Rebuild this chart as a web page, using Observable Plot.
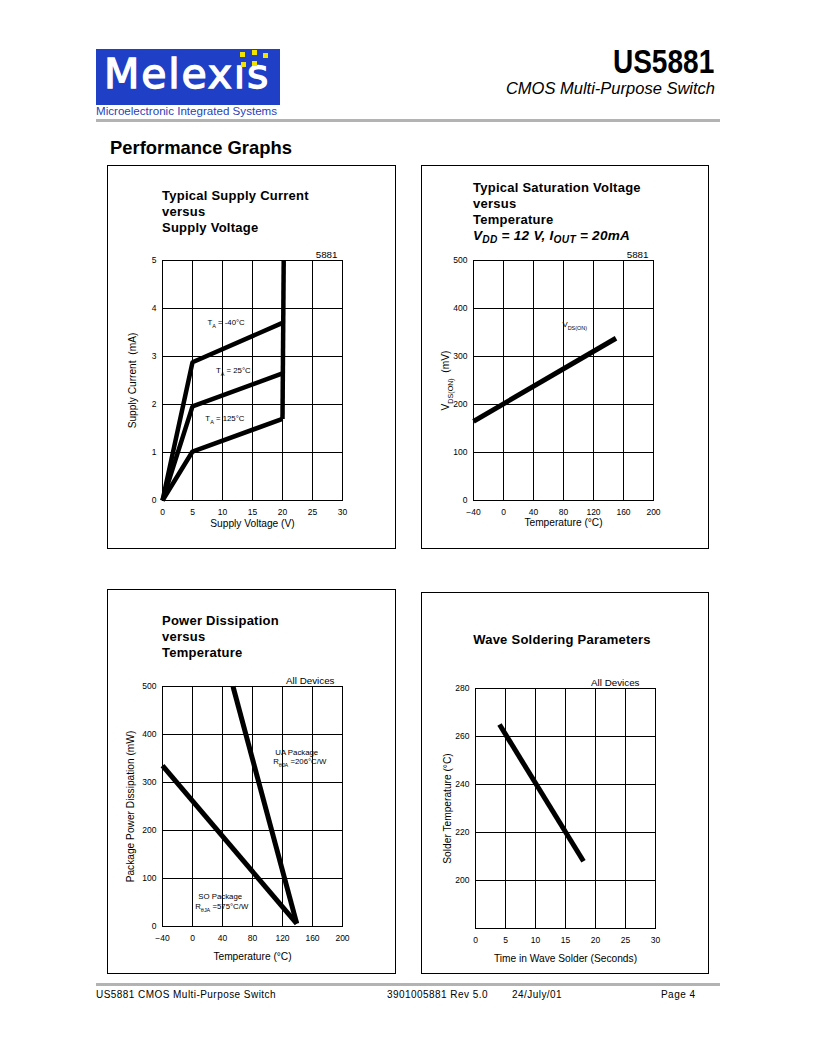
<!DOCTYPE html>
<html><head><meta charset="utf-8">
<script src="https://cdn.jsdelivr.net/npm/d3@7"></script>
<script src="https://cdn.jsdelivr.net/npm/@observablehq/plot@0.6"></script>
<style>
html,body{margin:0;padding:0;background:#fff;}
#page{position:relative;width:816px;height:1056px;overflow:hidden;font-family:"Liberation Sans",Arial,Helvetica,sans-serif;color:#000;}
.abs{position:absolute;}
.panel{position:absolute;border:1px solid #000;box-sizing:border-box;}
.title{position:absolute;font-weight:bold;font-size:13px;line-height:16px;white-space:nowrap;letter-spacing:0.25px;}
.title sub{font-size:0.75em;vertical-align:-0.3em;line-height:0;}
.rule{position:absolute;background:#b3b3b3;height:3px;left:96px;width:624px;}
.foot{position:absolute;top:989px;font-size:10px;letter-spacing:0.45px;white-space:nowrap;line-height:12px;}
.sq{position:absolute;width:5px;height:5px;background:#f2e200;}
.chart{position:absolute;width:260px;height:300px;}
</style></head>
<body><div id="page">
  <!-- header -->
  <div class="abs" style="left:96px;top:49px;width:184px;height:56px;background:#1f3fc6;"></div>
  <div class="abs" style="left:104px;top:46px;font-family:'DejaVu Sans';font-size:41px;line-height:56px;color:#fff;-webkit-text-stroke:1.3px #fff;letter-spacing:1.8px;white-space:nowrap;">Melexıs</div>
  <div class="sq" style="left:240px;top:52px"></div>
  <div class="sq" style="left:252px;top:50px"></div>
  <div class="sq" style="left:263px;top:53px"></div>
  <div class="sq" style="left:241px;top:62px"></div>
  <div class="sq" style="left:252px;top:61px"></div>
  <div class="abs" style="left:96px;top:104px;font-size:11.6px;line-height:13px;color:#2a3fb8;white-space:nowrap;">Microelectronic Integrated Systems</div>
  <div class="abs" style="right:102px;top:45px;font-weight:bold;font-size:33px;line-height:33px;transform:scaleX(0.85);transform-origin:right top;white-space:nowrap;">US5881</div>
  <div class="abs" style="right:101px;top:79px;font-style:italic;font-size:16.5px;line-height:18px;white-space:nowrap;">CMOS Multi-Purpose Switch</div>
  <div class="rule" style="top:119px"></div>
  <div class="abs" style="left:110px;top:138px;font-weight:bold;font-size:18.4px;line-height:20px;white-space:nowrap;">Performance Graphs</div>

  <!-- panels -->
  <div class="panel" style="left:107px;top:165px;width:289px;height:384px"></div>
  <div class="panel" style="left:421px;top:165px;width:288px;height:384px"></div>
  <div class="panel" style="left:107px;top:589px;width:289px;height:385px"></div>
  <div class="panel" style="left:421px;top:592px;width:288px;height:382px"></div>

  <div class="title" style="left:162px;top:188px">Typical Supply Current<br>versus<br>Supply Voltage</div>
  <div class="title" style="left:473px;top:180px">Typical Saturation Voltage<br>versus<br>Temperature<br><i style="font-size:13.6px">V<sub>DD</sub> = 12 V, I<sub>OUT</sub> = 20mA</i></div>
  <div class="title" style="left:162px;top:613px">Power Dissipation<br>versus<br>Temperature</div>
  <div class="title" style="left:462px;top:632px;width:200px;text-align:center">Wave Soldering Parameters</div>

  <div id="c1" class="chart" style="left:102px;top:240px"></div>
  <div id="c2" class="chart" style="left:413px;top:240px"></div>
  <div id="c3" class="chart" style="left:102px;top:666px"></div>
  <div id="c4" class="chart" style="left:415px;top:668px"></div>

  <!-- footer -->
  <div class="rule" style="top:983px"></div>
  <div class="foot" style="left:96px">US5881 CMOS Multi-Purpose Switch</div>
  <div class="foot" style="left:387px">3901005881 Rev 5.0</div>
  <div class="foot" style="left:512px">24/July/01</div>
  <div class="foot" style="left:661px">Page 4</div>
</div>
<script>
// ---------- Chart 1: Typical Supply Current vs Supply Voltage ----------
const supplyVoltage = [0, 5, 20];
const currentTaMinus40 = [0, 2.88, 3.70];
const currentTa25 = [0, 1.96, 2.65];
const currentTa125 = [0, 1.02, 1.70];
const clampVoltage = [20, 20.2];
const clampCurrent = [1.70, 5.0];
const c1XTicks = [0, 5, 10, 15, 20, 25, 30];
const c1YTicks = [0, 1, 2, 3, 4, 5];
const c1Labels = ["T_{A} = -40°C", "T_{A} = 25°C", "T_{A} = 125°C"];
const c1LabelX = [10.6, 11.8, 10.4];
const c1LabelY = [3.71, 2.71, 1.71];

// ---------- Chart 2: Saturation Voltage vs Temperature ----------
const satTemp = [-40, 150];
const satVoltage = [165, 338];
const c2XTicks = [-40, 0, 40, 80, 120, 160, 200];
const c2YTicks = [0, 100, 200, 300, 400, 500];
const c2Labels = ["V_{DS(ON)}"];
const c2LabelX = [95];
const c2LabelY = [367];

// ---------- Chart 3: Power Dissipation vs Temperature ----------
const soTemp = [-40, 139];
const soPower = [335, 6];
const uaTemp = [54, 139];
const uaPower = [500, 6];
const c3XTicks = [-40, 0, 40, 80, 120, 160, 200];
const c3YTicks = [0, 100, 200, 300, 400, 500];
const c3Labels = ["UA Package", "R_{θJA} =206°C/W", "SO Package", "R_{θJA} =575°C/W"];
const c3LabelX = [139, 143, 37, 39];
const c3LabelY = [362, 343, 63, 42];

// ---------- Chart 4: Wave Soldering Parameters ----------
const solderTime = [4, 18];
const solderTemp = [265, 208];
const c4XTicks = [0, 5, 10, 15, 20, 25, 30];
const c4YTicks = [200, 220, 240, 260, 280];

const FONT = '"Liberation Sans", Arial, Helvetica, sans-serif';

function series(xs, ys) { return xs.map((x, i) => ({x, y: ys[i]})); }
function notes(texts, xs, ys) { return texts.map((t, i) => ({text: t, x: xs[i], y: ys[i]})); }

function richText(svg) {
  const ns = "http://www.w3.org/2000/svg";
  svg.querySelectorAll("text, tspan").forEach(el => {
    if (el.children.length) return;
    const s = el.textContent;
    if (!s.includes("_{")) return;
    el.textContent = "";
    const re = /_\{([^}]*)\}/g;
    let last = 0, m;
    while ((m = re.exec(s))) {
      if (m.index > last) {
        const t = document.createElementNS(ns, "tspan");
        t.textContent = s.slice(last, m.index);
        el.appendChild(t);
      }
      const sub = document.createElementNS(ns, "tspan");
      sub.textContent = m[1];
      sub.setAttribute("font-size", "0.7em");
      sub.setAttribute("baseline-shift", "sub");
      el.appendChild(sub);
      last = re.lastIndex;
    }
    if (last < s.length) {
      const t = document.createElementNS(ns, "tspan");
      t.textContent = s.slice(last);
      el.appendChild(t);
    }
  });
}

function chart(id, o) {
  const marks = [
    Plot.gridX(o.xTicks, {stroke: "#000", strokeOpacity: 1, strokeWidth: 1}),
    Plot.gridY(o.yTicks, {stroke: "#000", strokeOpacity: 1, strokeWidth: 1}),
    Plot.frame({stroke: "#000", strokeWidth: 1}),
    Plot.axisX(o.xTicks, {tickSize: 0, tickPadding: 8, label: null, fontSize: 8.5}),
    Plot.axisY(o.yTicks, {tickSize: 0, tickPadding: 6, label: null, fontSize: 8.5}),
    ...o.lines.map(d => Plot.line(d, {x: "x", y: "y", stroke: "#000", strokeWidth: o.lw || 4.5, strokeLinecap: "butt", strokeLinejoin: "miter"})),
    Plot.text([o.xLabel], {frameAnchor: "bottom", textAnchor: "middle", dy: o.xLabelDy, text: d => d, fontSize: 10.2, lineAnchor: "middle"}),
    Plot.text([o.yLabel], {frameAnchor: "left", textAnchor: "middle", dx: o.yLabelDx, rotate: -90, text: d => d, fontSize: 10.2, lineAnchor: "middle"}),
    Plot.text([o.corner], {frameAnchor: "top-right", textAnchor: "end", dx: o.cornerDx, dy: -6, text: d => d, fontSize: 9.8, lineAnchor: "middle"})
  ];
  if (o.notes) marks.push(Plot.text(o.notes, {x: "x", y: "y", text: "text", fontSize: 7.8, textAnchor: "middle", lineAnchor: "middle"}));
  const p = Plot.plot({
    width: 260, height: 300,
    marginLeft: 60, marginRight: 20, marginTop: 20, marginBottom: 40,
    style: {fontFamily: FONT, fontSize: "8.5px", background: "transparent", color: "#000", overflow: "visible"},
    x: {domain: o.xDomain},
    y: {domain: o.yDomain},
    marks
  });
  richText(p);
  document.getElementById(id).appendChild(p);
}

chart("c1", {
  xDomain: [0, 30], yDomain: [0, 5], xTicks: c1XTicks, yTicks: c1YTicks,
  lines: [series(supplyVoltage, currentTaMinus40), series(supplyVoltage, currentTa25), series(supplyVoltage, currentTa125), series(clampVoltage, clampCurrent)],
  xLabel: "Supply Voltage (V)", xLabelDy: 23, yLabel: "Supply Current  (mA)", yLabelDx: -30,
  corner: "5881", cornerDx: -5,
  notes: notes(c1Labels, c1LabelX, c1LabelY)
});
chart("c2", {
  xDomain: [-40, 200], yDomain: [0, 500], xTicks: c2XTicks, yTicks: c2YTicks,
  lines: [series(satTemp, satVoltage)], lw: 5,
  xLabel: "Temperature (°C)", xLabelDy: 22, yLabel: "V_{DS(ON)}  (mV)", yLabelDx: -28,
  corner: "5881", cornerDx: -5,
  notes: notes(c2Labels, c2LabelX, c2LabelY)
});
chart("c3", {
  xDomain: [-40, 200], yDomain: [0, 500], xTicks: c3XTicks, yTicks: c3YTicks,
  lines: [series(soTemp, soPower), series(uaTemp, uaPower)], lw: 5,
  xLabel: "Temperature (°C)", xLabelDy: 30, yLabel: "Package Power Dissipation (mW)", yLabelDx: -32,
  corner: "All Devices", cornerDx: -8,
  notes: notes(c3Labels, c3LabelX, c3LabelY)
});
chart("c4", {
  xDomain: [0, 30], yDomain: [180, 280], xTicks: c4XTicks, yTicks: c4YTicks,
  lines: [series(solderTime, solderTemp)], lw: 5,
  xLabel: "Time in Wave Solder (Seconds)", xLabelDy: 30, yLabel: "Solder Temperature (°C)", yLabelDx: -28,
  corner: "All Devices", cornerDx: -16
});
</script>
</body></html>
